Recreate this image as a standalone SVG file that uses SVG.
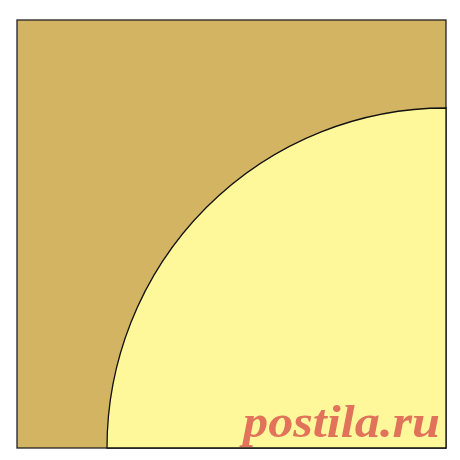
<svg xmlns="http://www.w3.org/2000/svg" width="460" height="460" viewBox="0 0 460 460">
<style>
.frame{fill:#D2B462;stroke:#222;stroke-width:1.3}
.sun{fill:#FFF89B;stroke:#111;stroke-width:1.3}
.wm{font-family:"Liberation Serif","DejaVu Serif",serif;font-weight:bold;font-style:italic;fill:#E0735A}
</style>
<rect width="460" height="460" fill="#fff"/>
<g id="square"><rect class="frame" x="17" y="20" width="429" height="428"/></g>
<g id="quarter"><path class="sun" d="M107,448 A339,340 0 0 1 446,108 L446,448 Z"/></g>
<text class="wm" x="243" y="437" font-size="47" textLength="197" lengthAdjust="spacingAndGlyphs">postila.ru</text>
</svg>
